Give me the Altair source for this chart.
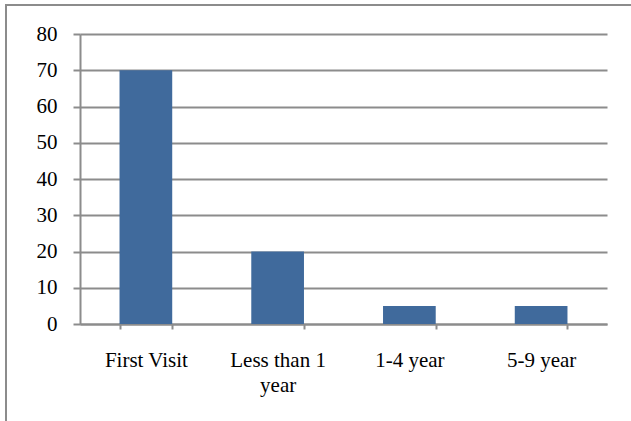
import altair as alt
import pandas as pd

categories = ["First Visit", "Less than 1 year", "1-4 year", "5-9 year"]
values = [70, 20, 5, 5]
y_ticks = [0, 10, 20, 30, 40, 50, 60, 70, 80]

df = pd.DataFrame({"category": categories, "value": values})

FONT = "Liberation Serif"
SIZE = 21
GRAY = "#8c8c8c"

bars = alt.Chart(df).mark_bar(color="#406a9c").encode(
    x=alt.X(
        "category:N",
        sort=categories,
        scale=alt.Scale(paddingInner=0.6, paddingOuter=0.3),
        axis=alt.Axis(
            title=None,
            labelAngle=0,
            labelFont=FONT,
            labelFontSize=SIZE,
            labelColor="black",
            tickBand="extent",
            tickSize=5,
            tickColor=GRAY,
            tickWidth=2,
            domainColor=GRAY,
            domainWidth=2,
            labelPadding=20,
            labelLineHeight=25,
            labelExpr="datum.value == 'Less than 1 year' ? ['Less than 1', 'year'] : datum.value",
        ),
    ),
    y=alt.Y(
        "value:Q",
        scale=alt.Scale(domain=[0, 80]),
        axis=alt.Axis(
            title=None,
            values=y_ticks,
            labelFont=FONT,
            labelFontSize=SIZE,
            labelColor="black",
            tickSize=7,
            tickColor=GRAY,
            tickWidth=2,
            domainColor=GRAY,
            domainWidth=2,
            grid=True,
            gridColor=GRAY,
            gridWidth=2,
            labelPadding=16,
        ),
    ),
)

# outer chart frame
frame = alt.Chart(df).mark_rect(
    fill=None, stroke=GRAY, strokeWidth=2, clip=False
).encode(
    x=alt.value(-74),
    x2=alt.value(600),
    y=alt.value(-29),
    y2=alt.value(500),
)

chart = (
    alt.layer(frame, bars)
    .properties(
        width=527,
        height=290,
        autosize=alt.AutoSizeParams(type="none"),
        padding={"left": 80, "top": 34, "right": 24, "bottom": 97},
    )
    .configure_view(stroke=None)
)

chart.save("out.html", embed_options={"renderer": "svg", "actions": False})
